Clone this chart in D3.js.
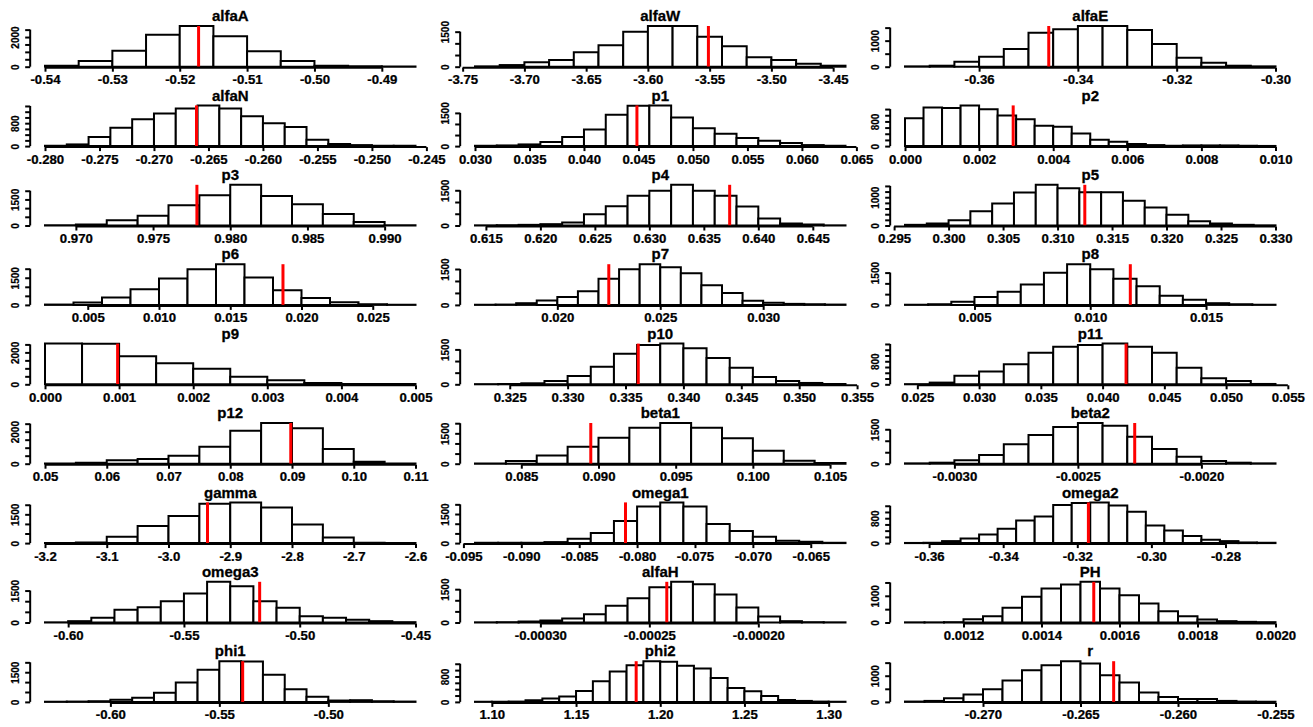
<!DOCTYPE html>
<html><head><meta charset="utf-8">
<script src="https://cdn.jsdelivr.net/npm/d3@7"></script>
<style>
body{margin:0;background:#fff}
svg text{font-family:"Liberation Sans",Arial,Helvetica,sans-serif;font-weight:bold;fill:#000}
</style></head><body><svg id="c" width="1313" height="727"></svg>
<script>
// ---------- data ----------
const titles = ["alfaA","alfaW","alfaE","alfaN","p1","p2","p3","p4","p5","p6","p7","p8","p9","p10","p11","p12","beta1","beta2","gamma","omega1","omega2","omega3","alfaH","PH","phi1","phi2","r"];
const binStart = [-0.540,-3.74,-0.375,-0.280,0.030,0.000,0.968,0.614,0.296,0.002,0.016,0.002,0.000,0.322,0.024,0.050,0.082,-0.0032,-3.20,-0.094,-0.3665,-0.61,-0.00033,0.00105,-0.63,1.09,-0.274];
const binWidth = [0.005,0.02,0.005,0.002,0.002,0.0005,0.002,0.002,0.002,0.002,0.001,0.001,0.0005,0.002,0.002,0.005,0.002,0.0001,0.05,0.002,0.005,0.01,0.00001,0.00005,0.01,0.01,0.001];
const redMark = [-0.5172,-3.551,-0.3459,-0.2661,0.04486,0.00292,0.97784,0.63737,0.3125,0.0187,0.0225,0.01173,0.00098,0.3361,0.0419,0.0898,0.0895,-0.00227,-2.9368,-0.081,-0.317,-0.5173,-0.000242,0.001534,-0.5393,1.1857,-0.2633];

const cAlfaA  = [68,383,1080,2160,2745,2048,1035,383,68,22,11];
const cAlfaW  = [15,70,186,286,614,914,1500,1743,1743,1286,871,400,286,129,43];
const cAlfaE  = [13,38,192,384,679,1306,1434,1562,1562,1408,871,346,154,38,13];
const cAlfaN  = [12,59,320,639,935,1136,1313,1420,1313,1041,793,663,225,71,35,12,12];
const cP1     = [15,30,76,182,410,745,1413,1824,1839,1292,805,562,365,243,137,46,15];
const cP2     = [902,1253,1231,1319,1198,990,869,660,627,407,209,143,66,33,11,22,22,22,11,5];
const cP3     = [19,57,302,567,1171,1738,2342,1700,1228,661,208,9];
const cP4     = [7,14,28,57,128,483,824,1264,1477,1733,1477,1264,810,298,85,43,7];
const cP5     = [24,71,189,507,779,1168,1440,1322,1180,1180,873,637,378,153,71,24,6];
const cP6     = [19,131,412,862,1462,1968,2249,1518,806,375,150,37,9];
const cP7     = [7,14,71,184,326,567,1091,1488,1701,1573,1318,822,496,170,85,43,28,14];
const cP8     = [8,31,142,362,614,945,1496,1890,1654,1213,866,425,236,79,31,8];
const cP9     = [2551,2540,1764,1318,978,468,255,85,21,11];
const cP10    = [7,14,43,145,362,752,1316,1692,1750,1547,1128,709,318,145,58,14];
const cP11    = [6,59,294,447,694,1095,1307,1365,1413,1307,1095,577,212,118,12];
const cP12    = [10,63,208,292,500,1063,2063,2542,2208,917,125,10];
const cBeta1  = [16,130,407,831,1287,1776,2010,1776,1254,635,147,33];
const cBeta2  = [15,44,145,378,843,1250,1599,1773,1657,1177,640,305,116,44,15];
const cGamma  = [9,35,330,887,1409,2052,2122,1861,974,296,17,9];
const cOmega1 = [17,17,17,52,224,516,1136,1893,2100,1893,981,620,327,120,69,17];
const cOmega2 = [5,11,64,150,279,461,729,858,1223,1287,1308,1212,1008,568,407,225,107,64,21,11];
const cOmega3 = [8,63,219,595,720,1002,1362,1911,1707,1002,689,298,219,125,63,16];
const cAlfaH  = [8,15,45,90,180,375,751,1096,1592,1832,1727,1261,676,270,60,15,8];
const cPH     = [6,6,13,125,238,550,963,1275,1425,1525,1275,1025,713,425,238,113,50,25,13];
const cPhi1   = [9,17,34,103,206,463,977,1628,2057,2040,1371,634,257,69,86,34,17];
const cPhi2   = [5,5,10,52,105,168,346,650,954,1154,1280,1259,1133,1049,755,441,336,189,63,31,10,5];
const cR      = [13,38,140,280,485,816,1211,1403,1555,1466,1020,740,357,191,115,115,38,13,6];
const counts = [cAlfaA,cAlfaW,cAlfaE,cAlfaN,cP1,cP2,cP3,cP4,cP5,cP6,cP7,cP8,cP9,cP10,cP11,cP12,cBeta1,cBeta2,cGamma,cOmega1,cOmega2,cOmega3,cAlfaH,cPH,cPhi1,cPhi2,cR];

const xTickLabels = [
 ["-0.54","-0.53","-0.52","-0.51","-0.50","-0.49"],
 ["-3.75","-3.70","-3.65","-3.60","-3.55","-3.50","-3.45"],
 ["-0.36","-0.34","-0.32","-0.30"],
 ["-0.280","-0.275","-0.270","-0.265","-0.260","-0.255","-0.250","-0.245"],
 ["0.030","0.035","0.040","0.045","0.050","0.055","0.060","0.065"],
 ["0.000","0.002","0.004","0.006","0.008","0.010"],
 ["0.970","0.975","0.980","0.985","0.990"],
 ["0.615","0.620","0.625","0.630","0.635","0.640","0.645"],
 ["0.295","0.300","0.305","0.310","0.315","0.320","0.325","0.330"],
 ["0.005","0.010","0.015","0.020","0.025"],
 ["0.020","0.025","0.030"],
 ["0.005","0.010","0.015"],
 ["0.000","0.001","0.002","0.003","0.004","0.005"],
 ["0.325","0.330","0.335","0.340","0.345","0.350","0.355"],
 ["0.025","0.030","0.035","0.040","0.045","0.050","0.055"],
 ["0.05","0.06","0.07","0.08","0.09","0.10","0.11"],
 ["0.085","0.090","0.095","0.100","0.105"],
 ["-0.0030","-0.0025","-0.0020"],
 ["-3.2","-3.1","-3.0","-2.9","-2.8","-2.7","-2.6"],
 ["-0.095","-0.090","-0.085","-0.080","-0.075","-0.070","-0.065"],
 ["-0.36","-0.34","-0.32","-0.30","-0.28"],
 ["-0.60","-0.55","-0.50","-0.45"],
 ["-0.00030","-0.00025","-0.00020"],
 ["0.0012","0.0014","0.0016","0.0018","0.0020"],
 ["-0.60","-0.55","-0.50"],
 ["1.10","1.15","1.20","1.25","1.30"],
 ["-0.270","-0.265","-0.260","-0.255"]
];
const yTickStep = [500,500,500,200,500,200,500,500,200,500,500,500,500,500,200,500,500,500,500,500,200,500,500,500,500,200,500];
const yTickLabels = [[0,2000],[0,1500],[0,1000],[0,800],[0,1500],[0,800],[0,1500],[0,1500],[0,1000],[0,1500],[0,1500],[0,1500],[0,2000],[0,1500],[0,800],[0,2000],[0,1500],[0,1500],[0,1500],[0,1500],[0,800],[0,1500],[0,1500],[0,1000],[0,1500],[0,800],[0,1000]];

// ---------- layout ----------
const colX0 = 45, colStep = 430, binsW = 370.5;
const row0 = 66.7, rowStep = 79.4, barH = 40.7;
const svg = d3.select("#c");
svg.append("rect").attr("width",1313).attr("height",727).attr("fill","#fff");

titles.forEach((name,i)=>{
  const r = Math.floor(i/3), c = i%3;
  const cnt = counts[i];
  const lo = binStart[i], w = binWidth[i], hi = lo + w*cnt.length, span = hi-lo;
  const left = colX0 + c*colStep;
  const x = d3.scaleLinear().domain([lo-0.04*span, hi+0.04*span]).range([left-0.04*binsW, left+binsW*1.04]);
  const base = row0 + r*rowStep;
  const ymax = d3.max(cnt);
  const y = d3.scaleLinear().domain([0,ymax]).range([base, base-barH]);
  const g = svg.append("g");

  // bars
  g.selectAll("path.bar").data(cnt).join("path").attr("class","bar")
    .attr("d",(d,k)=>{const x0=x(lo+k*w), x1=x(lo+(k+1)*w); return `M${x0},${y(0)}V${y(d)}H${x1}V${y(0)}Z`;})
    .attr("fill","#fff").attr("stroke","#000").attr("stroke-width",2);

  // red marker
  g.append("line").attr("x1",x(redMark[i])).attr("x2",x(redMark[i]))
    .attr("y1",y(0)).attr("y2",y(ymax)).attr("stroke","#ff0000").attr("stroke-width",3);

  // x axis
  const xt = xTickLabels[i].map(Number);
  const xa = g.append("g").attr("transform",`translate(0,${base+1})`)
    .call(d3.axisBottom(x).tickValues(xt).tickFormat((d,j)=>xTickLabels[i][j]).tickSize(4).tickPadding(4).tickSizeOuter(0));
  xa.select(".domain").remove();
  xa.append("line").attr("x1",x(xt[0])).attr("x2",x(xt[xt.length-1])).attr("stroke","#000").attr("stroke-width",2);
  xa.selectAll(".tick line").attr("stroke","#000").attr("stroke-width",2);
  xa.selectAll(".tick text").attr("font-size",12).attr("transform","scale(1.1,1)")
    .attr("stroke","#000").attr("stroke-width",0.25);
  xa.attr("font-size",null).attr("font-family",null);

  // y axis
  const step = yTickStep[i];
  const yt = d3.range(0, ymax+1e-9, step);
  const ya = g.append("g").attr("transform",`translate(${x.range()[0]},0)`)
    .call(d3.axisLeft(y).tickValues(yt).tickFormat(d=>yTickLabels[i].includes(d)?String(d):"").tickSize(5).tickSizeOuter(0));
  ya.select(".domain").remove();
  ya.append("line").attr("y1",y(0)).attr("y2",y(yt[yt.length-1])).attr("stroke","#000").attr("stroke-width",2);
  ya.selectAll(".tick line").attr("stroke","#000").attr("stroke-width",2);
  ya.selectAll(".tick text").attr("font-size",10).attr("transform","rotate(-90)")
    .attr("x",0).attr("y",-15).attr("dy","0.35em").attr("text-anchor","middle")
    .attr("stroke","#000").attr("stroke-width",0.2);
  ya.attr("font-size",null).attr("font-family",null);

  // title
  g.append("text").attr("x",left+binsW/2).attr("y",base-45.5).attr("text-anchor","middle")
    .attr("font-size",15).attr("stroke","#000").attr("stroke-width",0.3).text(name);
});
</script></body></html>
